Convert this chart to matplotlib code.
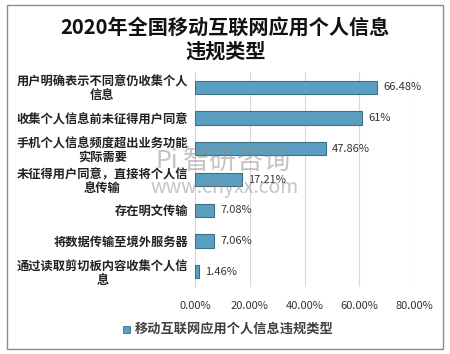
import matplotlib
matplotlib.use("Agg")
import matplotlib.pyplot as plt
from matplotlib.patches import Rectangle

plt.rcParams['font.family'] = ['Noto Sans CJK SC', 'DejaVu Sans']

categories = [
    "用户明确表示不同意仍收集个人\n信息",
    "收集个人信息前未征得用户同意",
    "手机个人信息频度超出业务功能\n实际需要",
    "未征得用户同意，直接将个人信\n息传输",
    "存在明文传输",
    "将数据传输至境外服务器",
    "通过读取剪切板内容收集个人信\n息",
]
values = [66.48, 61, 47.86, 17.21, 7.08, 7.06, 1.46]
value_labels = ["66.48%", "61%", "47.86%", "17.21%", "7.08%", "7.06%", "1.46%"]
xticks = [0, 20, 40, 60, 80]
xtick_labels = ["0.00%", "20.00%", "40.00%", "60.00%", "80.00%"]
title = "2020年全国移动互联网应用个人信息\n违规类型"
legend_label = "移动互联网应用个人信息违规类型"

W, H = 450, 354
fig = plt.figure(figsize=(W / 100, H / 100), dpi=100)
fig.patch.set_facecolor('white')

# outer border
fig.add_artist(Rectangle((7 / W, 1 - 349 / H), 436 / W, 344 / H, transform=fig.transFigure,
                         fill=False, edgecolor='#8c8c8c', linewidth=1.0))

ax = fig.add_axes([195 / W, 1 - 287 / H, 219 / W, 215 / H])
ypos = list(range(len(values)))
ax.barh(ypos, values, height=0.43, color='#5a9fc2', edgecolor='#3f6f88', linewidth=0.8, zorder=3)
ax.set_xlim(0, 80)
ax.set_ylim(len(values) - 0.5, -0.5)
ax.set_xticks(xticks)
ax.set_xticklabels(xtick_labels, fontsize=8, color='#333333')
ax.set_yticks(ypos)
ax.set_yticklabels(categories, fontsize=8.8, fontweight='bold', color='#222222',
                   multialignment='center', linespacing=1.05)
ax.tick_params(axis='both', length=0, pad=5)
ax.tick_params(axis='x', pad=10)
ax.grid(axis='x', color='#d9d9d9', linewidth=0.8, zorder=0)
for s in ['top', 'right', 'bottom']:
    ax.spines[s].set_visible(False)
ax.spines['left'].set_color('#d9d9d9')

for y, v, lab in zip(ypos, values, value_labels):
    ax.text(v + 2.2, y, lab, va='center', ha='left', fontsize=8, color='#333333', zorder=4)

fig.text(0.5, 1 - 39 / H, title, ha='center', va='center', fontsize=14.5, fontweight='bold',
         color='#111111', linespacing=1.15)

# legend
fig.add_artist(Rectangle((123 / W, 1 - 333 / H), 7 / W, 7 / H, transform=fig.transFigure,
                         facecolor='#5a9fc2', edgecolor='#3f6f88', linewidth=0.6))
fig.text(135 / W, 1 - 329 / H, legend_label, ha='left', va='center', fontsize=9.5,
         fontweight='bold', color='#404040')

# watermark
fig.text(156 / W, 1 - 161 / H, "Pi", ha='left', va='center', fontsize=18,
         color='#8a8a8a', alpha=0.5)
fig.text(183 / W, 1 - 161 / H, "智研咨询", ha='left', va='center', fontsize=19.5,
         color='#8a8a8a', alpha=0.5)
fig.text(150 / W, 1 - 188 / H, "www.chyxx.com", ha='left', va='center', fontsize=14,
         color='#8a8a8a', alpha=0.5)

fig.savefig("out.png", dpi=100)
